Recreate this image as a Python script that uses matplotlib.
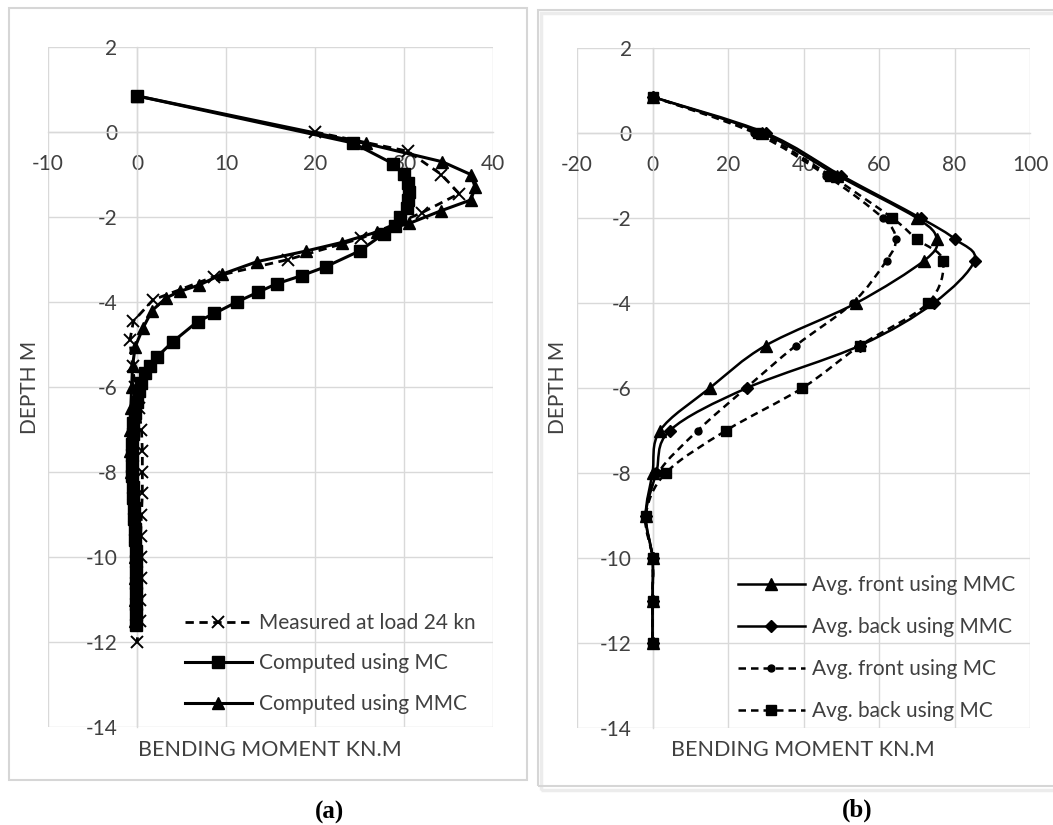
import matplotlib
matplotlib.use("Agg")
import matplotlib.pyplot as plt
from matplotlib.lines import Line2D
from matplotlib.patches import Rectangle, PathPatch
from matplotlib.path import Path
import numpy as np

plt.rcParams['font.family'] = ['Lato', 'DejaVu Sans']
plt.rcParams['axes.unicode_minus'] = False

# ---- panel (a) data: depth (m) / bending moment (kN.m) ----
meas_depth = [0, -0.45, -1.0, -1.45, -1.9, -2.5, -3.0, -3.4, -3.95, -4.45, -4.9,
              -5.5, -6.0, -6.5, -7.0, -7.5, -8.0, -8.5, -9.0, -9.5, -10.0,
              -10.5, -11.0, -11.5, -12.0]
meas_bm = [20, 30.4, 34.2, 36.2, 32.0, 25.2, 17.0, 8.7, 1.8, -0.4, -0.8,
           -0.5, -0.2, 0.2, 0.5, 0.6, 0.6, 0.6, 0.5, 0.4, 0.4,
           0.4, 0.3, 0.3, 0.0]

mc_depth = [0.85, -0.26, -0.75, -0.98, -1.2, -1.4, -1.6, -1.78, -2.0, -2.2,
            -2.4, -2.8, -3.17, -3.38, -3.57, -3.77, -4.0, -4.27, -4.46, -4.94,
            -5.3, -5.5, -5.66, -5.9, -6.1, -6.35, -6.6, -6.85, -7.1, -7.35,
            -7.6, -7.85, -8.1, -8.35, -8.6, -8.85, -9.1, -9.35, -9.6, -9.85,
            -10.1, -10.35, -10.6, -10.85, -11.1, -11.35, -11.6]
mc_bm = [0, 24.3, 28.8, 30.0, 30.4, 30.6, 30.5, 30.3, 29.6, 29.0,
         27.7, 25.0, 21.2, 18.5, 15.7, 13.6, 11.2, 8.7, 6.8, 4.0,
         2.2, 1.5, 0.9, 0.5, 0.2, 0.0, -0.2, -0.4, -0.5, -0.6,
         -0.6, -0.6, -0.6, -0.5, -0.4, -0.3, -0.3, -0.2, -0.2, -0.1,
         -0.1, -0.1, -0.1, -0.1, -0.1, -0.1, -0.1]

mmc_depth = [0.85, -0.27, -0.7, -1.0, -1.3, -1.6, -1.85, -2.15, -2.35, -2.6,
             -2.8, -3.05, -3.35, -3.6, -3.75, -3.9, -4.2, -4.6, -5.05, -5.5,
             -6.0, -6.5, -7.0, -7.5, -8.0, -8.5, -9.0, -9.5, -10.0, -10.5,
             -11.0, -11.5]
mmc_bm = [0, 25.7, 34.3, 37.5, 38.0, 37.5, 34.2, 30.6, 27.0, 23.0,
          19.0, 13.5, 9.5, 7.0, 4.8, 3.3, 1.7, 0.7, -0.2, -0.5,
          -0.6, -0.7, -0.8, -0.8, -0.7, -0.5, -0.3, -0.2, -0.2, -0.2,
          -0.2, -0.2]

# ---- panel (b) data ----
depth_b = [0.85, 0, -1, -2, -2.5, -3, -4, -5, -6, -7, -8, -9, -10, -11, -12]
front_mmc = [0, 29, 49, 70, 75.3, 72, 54, 30, 15.2, 2, 0, -1.8, 0, 0, 0]
back_mmc = [0, 30, 50, 71, 80.2, 85.3, 74.5, 55, 25, 4.6, 1, -1.8, 0, 0, 0]
front_mc = [0, 27, 46, 61, 64.4, 62, 53, 38, 24.8, 12, 1.5, -1.8, 0, 0, 0]
back_mc = [0, 28, 47, 63.5, 70, 76.9, 73, 55, 39.7, 19.5, 3.5, -1.8, 0, 0, 0]

TXT = '#404040'
GRID = '#d9d9d9'
FS = 15
W, H = 1053, 825


def smooth_path(xs, ys):
    # excel-like smoothed line (catmull-rom as cubic bezier)
    p = np.column_stack([xs, ys]).astype(float)
    ext = np.vstack([p[0], p, p[-1]])
    verts = [p[0]]
    codes = [Path.MOVETO]
    for i in range(len(p) - 1):
        p0, p1, p2, p3 = ext[i], ext[i + 1], ext[i + 2], ext[i + 3]
        verts += [p1 + (p2 - p0) / 6, p2 - (p3 - p1) / 6, p2]
        codes += [Path.CURVE4] * 3
    return Path(verts, codes)


def style_axes(ax, xlim, xstep, ypad_px):
    ax.set_xlim(*xlim)
    ax.set_ylim(-14, 2)
    ax.set_xticks(np.arange(xlim[0], xlim[1] + 1, xstep))
    ax.set_yticks(np.arange(-14, 3, 2))
    ax.grid(True, color=GRID, lw=1)
    ax.set_axisbelow(True)
    for s in ['top', 'right']:
        ax.spines[s].set_visible(False)
    ax.spines['left'].set_position(('data', 0))
    ax.spines['bottom'].set_position(('data', 0))
    for s in ['left', 'bottom']:
        ax.spines[s].set_color(GRID)
        ax.spines[s].set_linewidth(1)
    ax.tick_params(axis='x', length=0, pad=16, labelsize=FS, labelcolor=TXT)
    ax.tick_params(axis='y', length=0, pad=ypad_px, labelsize=FS, labelcolor=TXT)
    ax.set_facecolor('none')


fig = plt.figure(figsize=(W / 100, H / 100), dpi=100)

# chart frames
fig.add_artist(Rectangle((9 / W, 1 - 780 / H), 518 / W, 772 / H, transform=fig.transFigure,
                         fill=False, ec='#d6d6d6', lw=1.5))
fig.add_artist(Rectangle((541 / W, 1 - 790 / H), 520 / W, 777 / H, transform=fig.transFigure,
                         fill=False, ec='#ececec', lw=2.5))
fig.add_artist(Rectangle((538 / W, 1 - 786 / H), 520 / W, 776 / H, transform=fig.transFigure,
                         fill=False, ec='#d6d6d6', lw=1.5))

# ---- (a) ----
ax1 = fig.add_axes([48 / W, 1 - 727 / H, 445 / W, 680 / H])
style_axes(ax1, (-10, 40), 10, 14)
ax1.plot(meas_bm, meas_depth, color='k', lw=2, ls=(0, (3, 2)), marker='x', ms=8, mew=1.4,
         zorder=3, clip_on=False)
ax1.plot(mc_bm, mc_depth, color='k', lw=2.2, marker='s', ms=9, zorder=3, clip_on=False)
ax1.plot(mmc_bm, mmc_depth, color='k', lw=2.2, marker='^', ms=9, zorder=3, clip_on=False)

h_a = [Line2D([], [], color='k', lw=2, ls=(0, (3, 2)), marker='x', ms=8, mew=1.4),
       Line2D([], [], color='k', lw=2.2, marker='s', ms=9),
       Line2D([], [], color='k', lw=2.2, marker='^', ms=9)]
ax1.legend(h_a, ['Measured at load 24 kn', 'Computed using MC', 'Computed using MMC'],
           loc='upper left', bbox_to_anchor=(185 / W, 1 - 613 / H), bbox_transform=fig.transFigure,
           frameon=False, fontsize=FS, labelcolor=TXT, handlelength=3.2, handletextpad=0.35,
           labelspacing=0.98, borderpad=0, borderaxespad=0)

fig.text(30 / W, 1 - 387 / H, 'DEPTH M', rotation=90, ha='center', va='center',
         fontsize=FS, color=TXT)
fig.text(270 / W, 1 - 750 / H, 'BENDING MOMENT KN.M', ha='center', va='center',
         fontsize=FS + 0.5, color=TXT)

# ---- (b) ----
ax2 = fig.add_axes([577 / W, 1 - 728 / H, 453 / W, 680 / H])
style_axes(ax2, (-20, 100), 20, 15)
series_b = [(front_mmc, '-', '^', 8), (back_mmc, '-', 'D', 6.5),
            (front_mc, '--', 'o', 5), (back_mc, '--', 's', 7)]
h_b = []
for vals, ls, mk, ms in series_b:
    dash = (0, (3, 2)) if ls == '--' else '-'
    ax2.add_patch(PathPatch(smooth_path(vals, depth_b), fill=False, ec='k', lw=1.8,
                            ls=dash, zorder=3))
    ax2.plot(vals, depth_b, ls='none', marker=mk, ms=ms, color='k', zorder=4, clip_on=False)
    h_b.append(Line2D([], [], color='k', lw=1.8, ls=dash, marker=mk, ms=ms))
ax2.legend(h_b, ['Avg. front using MMC', 'Avg. back using MMC',
                 'Avg. front using MC', 'Avg. back using MC'],
           loc='upper left', bbox_to_anchor=(738 / W, 1 - 575 / H), bbox_transform=fig.transFigure,
           frameon=False, fontsize=FS, labelcolor=TXT, handlelength=3.2, handletextpad=0.35,
           labelspacing=1.06, borderpad=0, borderaxespad=0)

fig.text(558 / W, 1 - 387 / H, 'DEPTH M', rotation=90, ha='center', va='center',
         fontsize=FS, color=TXT)
fig.text(803 / W, 1 - 750 / H, 'BENDING MOMENT KN.M', ha='center', va='center',
         fontsize=FS + 0.5, color=TXT)

# panel captions
fig.text(330 / W, 1 - 812 / H, '(a)', ha='center', va='center', fontsize=18,
         fontweight='bold', family='Liberation Serif')
fig.text(857 / W, 1 - 810 / H, '(b)', ha='center', va='center', fontsize=18,
         fontweight='bold', family='Liberation Serif')

fig.savefig('out.png', dpi=100)
